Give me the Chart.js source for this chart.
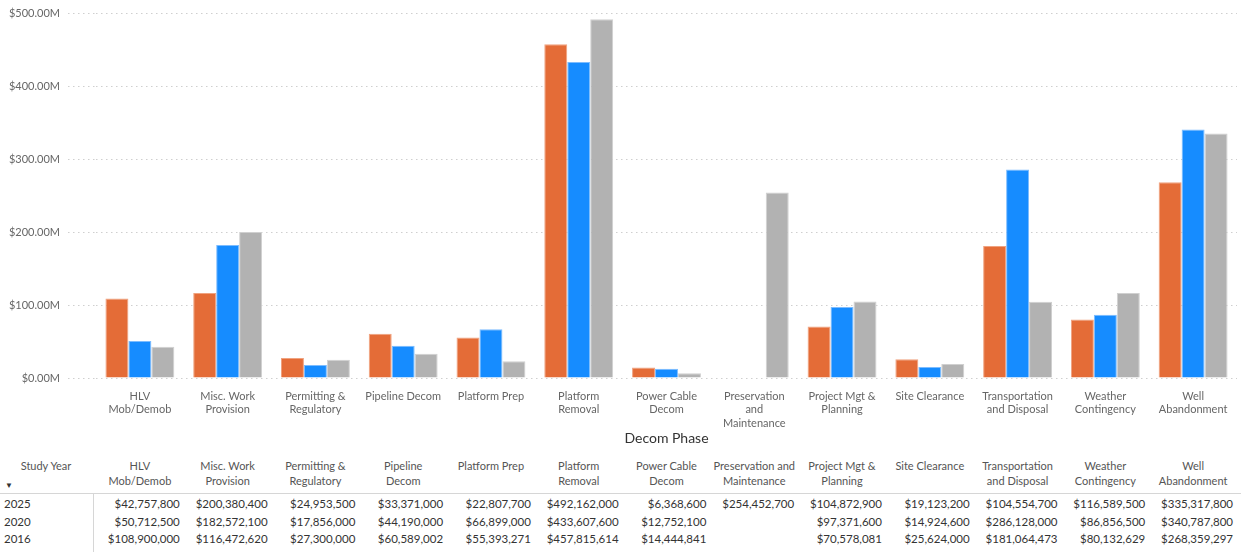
<!DOCTYPE html>
<html>
<head>
<meta charset="utf-8">
<script src="https://cdn.jsdelivr.net/npm/chart.js@4"></script>
<style>
  body { margin: 0; background: #fff; font-family: Lato, "Open Sans", sans-serif; }
  #wrap { position: relative; width: 1241px; height: 552px; overflow: hidden; }
  #chartBox { position: absolute; left: 0; top: 0; width: 1241px; height: 448px; }
  #costTable { position: absolute; left: 0; top: 450px; width: 1241px; height: 102px; }
  .cell { position: absolute; white-space: nowrap; font-size: 11.5px; color: #333; }
  .head { color: #555; font-size: 11px; line-height: 15px; text-align: center; }
</style>
</head>
<body>
<div id="wrap">
  <div id="chartBox"><canvas id="decomChart"></canvas></div>
  <div id="costTable"></div>
</div>
<script>
// decom phases, wrapped for the axis and for the table header
const phases = ["HLV Mob/Demob", "Misc. Work Provision", "Permitting & Regulatory", "Pipeline Decom",
  "Platform Prep", "Platform Removal", "Power Cable Decom", "Preservation and Maintenance",
  "Project Mgt & Planning", "Site Clearance", "Transportation and Disposal", "Weather Contingency",
  "Well Abandonment"];

const axisLabels = [["HLV", "Mob/Demob"], ["Misc. Work", "Provision"], ["Permitting &", "Regulatory"],
  ["Pipeline Decom"], ["Platform Prep"], ["Platform", "Removal"], ["Power Cable", "Decom"],
  ["Preservation", "and", "Maintenance"], ["Project Mgt &", "Planning"], ["Site Clearance"],
  ["Transportation", "and Disposal"], ["Weather", "Contingency"], ["Well", "Abandonment"]];

const headLabels = [["HLV", "Mob/Demob"], ["Misc. Work", "Provision"], ["Permitting &", "Regulatory"],
  ["Pipeline", "Decom"], ["Platform Prep"], ["Platform", "Removal"], ["Power Cable", "Decom"],
  ["Preservation and", "Maintenance"], ["Project Mgt &", "Planning"], ["Site Clearance"],
  ["Transportation", "and Disposal"], ["Weather", "Contingency"], ["Well", "Abandonment"]];

// cost per phase by study year (USD)
const cost2016 = [108900000, 116472620, 27300000, 60589002, 55393271, 457815614, 14444841,
  null, 70578081, 25624000, 181064473, 80132629, 268359297];
const cost2020 = [50712500, 182572100, 17856000, 44190000, 66899000, 433607600, 12752100,
  null, 97371600, 14924600, 286128000, 86856500, 340787800];
const cost2025 = [42757800, 200380400, 24953500, 33371000, 22807700, 492162000, 6368600,
  254452700, 104872900, 19123200, 104554700, 116589500, 335317800];

const yearLabels = ["2016", "2020", "2025"];
const yTicks = [0, 100e6, 200e6, 300e6, 400e6, 500e6];

const dotted = [1.5, 3.5];

const decomChart = new Chart("decomChart", {
  type: "bar",
  data: {
    labels: axisLabels,
    datasets: [
      { label: yearLabels[0], data: cost2016, backgroundColor: "#e46c37", borderColor: "#f0a27f", borderWidth: 1 },
      { label: yearLabels[1], data: cost2020, backgroundColor: "#168cff", borderColor: "#7cbcff", borderWidth: 1 },
      { label: yearLabels[2], data: cost2025, backgroundColor: "#b2b2b2", borderColor: "#d0d0d0", borderWidth: 1 }
    ]
  },
  options: {
    responsive: true,
    maintainAspectRatio: false,
    animation: false,
    layout: { padding: { top: 9, right: 4, bottom: 0, left: 0 } },
    datasets: { bar: { categoryPercentage: 0.785, barPercentage: 1.0 } },
    plugins: { legend: { display: false }, tooltip: { enabled: false } },
    scales: {
      x: {
        grid: { display: false, drawTicks: false },
        border: { display: false },
        ticks: { autoSkip: false, maxRotation: 0, padding: 12, color: "#666",
                 font: { family: "Lato", size: 11 } },
        title: { display: true, text: "Decom Phase", color: "#333",
                 font: { family: "Lato", size: 14 }, padding: { top: 0, bottom: 1 } },
        afterFit: (s) => { s.height = 70; }
      },
      y: {
        min: 0,
        max: 500e6,
        afterBuildTicks: (s) => { s.ticks = yTicks.map(v => ({ value: v })); },
        grid: { color: "#cfcfcf", lineWidth: 1, tickLength: 28, tickColor: "#cfcfcf",
                tickBorderDash: dotted },
        border: { display: false, dash: dotted },
        ticks: { padding: 8, color: "#666", font: { family: "Lato", size: 11, lineHeight: 1 },
                 callback: (v) => "$" + (v / 1e6).toFixed(2) + "M" },
        afterFit: (s) => { s.width = 96; }
      }
    }
  }
});

// dotted gridlines
decomChart.options.scales.y.grid.borderDash = dotted;
decomChart.options.scales.y.border.dash = dotted;
decomChart.update();

// data table under the chart, columns lined up with the categories
function buildTable() {
  const box = document.getElementById("costTable");
  const area = decomChart.chartArea;
  const colW = (area.right - area.left) / phases.length;
  let html = "";

  html += '<div class="cell head" style="left:0;width:92px;top:8px;">Study Year</div>';
  html += '<div class="cell" style="left:5px;top:30px;font-size:8px;color:#333;">&#9660;</div>';
  headLabels.forEach((lines, i) => {
    const x = area.left + i * colW;
    html += '<div class="cell head" style="left:' + x + 'px;width:' + colW + 'px;top:8px;">' +
      lines.join("<br>").replace(/&(?!#)/g, "&amp;") + '</div>';
  });

  html += '<div style="position:absolute;left:0;top:43px;width:1241px;height:1px;background:#d6d6d6;"></div>';
  html += '<div style="position:absolute;left:' + (area.left - 3) + 'px;top:43px;width:1px;height:60px;background:#d6d6d6;"></div>';

  const rows = [[yearLabels[2], cost2025], [yearLabels[1], cost2020], [yearLabels[0], cost2016]];
  rows.forEach((row, r) => {
    const top = 47 + r * 17.5;
    html += '<div class="cell" style="left:4px;top:' + top + 'px;">' + row[0] + '</div>';
    row[1].forEach((v, i) => {
      if (v === null) return;
      const right = 1241 - (area.left + (i + 1) * colW) + 4;
      html += '<div class="cell" style="right:' + right + 'px;top:' + top + 'px;">$' +
        v.toLocaleString("en-US") + '</div>';
    });
  });
  box.innerHTML = html;
}
buildTable();
</script>
</body>
</html>
